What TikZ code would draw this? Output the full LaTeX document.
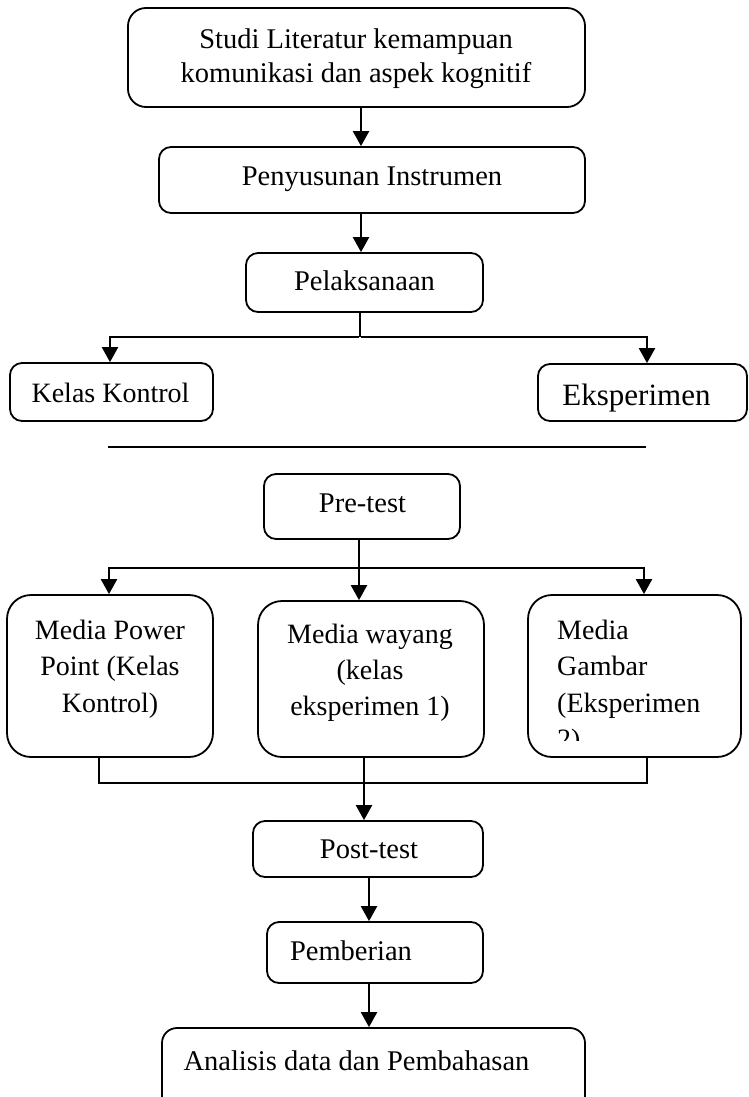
\documentclass[tikz,border=0pt]{standalone}
\usepackage{fontspec}
\setmainfont{Liberation Serif}
\usetikzlibrary{arrows.meta}
\begin{document}
\begin{tikzpicture}[x=1pt,y=-1pt,
  box/.style={draw, line width=1.8pt, rounded corners=12pt, inner sep=0pt},
  bigbox/.style={box, rounded corners=24pt},
  txt/.style={inner sep=0pt, anchor=base, font=\fontsize{28.5}{34}\selectfont},
  line/.style={line width=2.2pt},
  arr/.style={line width=2.4pt, -{Triangle[width=16pt,length=15pt]}}]
\useasboundingbox (0,0) rectangle (748,1097);

% boxes
\node[box, rounded corners=18pt, minimum width=457pt, minimum height=99pt] (b1) at (356.5,57.5) {};
\node[box, minimum width=426pt, minimum height=66pt] (b2) at (372,180) {};
\node[box, minimum width=237pt, minimum height=59pt] (b3) at (364.5,282.5) {};
\node[box, minimum width=203pt, minimum height=58pt] (kk) at (111.5,392) {};
\node[box, minimum width=209pt, minimum height=57pt] (ek) at (642.5,392.5) {};
\node[box, minimum width=196pt, minimum height=65pt] (pre) at (362,506.5) {};
\node[bigbox, minimum width=206pt, minimum height=162pt] (m1) at (110,676) {};
\node[bigbox, minimum width=226pt, minimum height=156pt] (m2) at (371,679) {};
\node[bigbox, minimum width=213pt, minimum height=162pt] (m3) at (634.5,676) {};
\node[box, minimum width=230pt, minimum height=56pt] (post) at (368,849) {};
\node[box, minimum width=216pt, minimum height=61pt] (pem) at (375,952.5) {};
\node[box, rounded corners=15pt, minimum width=423pt, minimum height=84pt] (an) at (373.5,1070) {};

% texts (multi-line nodes: base = baseline of last line)
\node[txt, align=center] (t1) at (356,83) {Studi Literatur kemampuan\\komunikasi dan aspek kognitif};
\node[txt] (t2) at (372,185) {Penyusunan Instrumen};
\node[txt] (t3) at (364.5,290) {Pelaksanaan};
\node[txt, font=\fontsize{28}{34}\selectfont] (tkk) at (110.5,402) {Kelas Kontrol};
\node[txt, font=\fontsize{31}{36}\selectfont] (tek) at (636.5,405) {Eksperimen};
\node[txt] (tpre) at (362.5,512) {Pre-test};
\node[txt, align=center, font=\fontsize{28}{36.5}\selectfont] (tm1) at (110,712) {Media Power\\Point (Kelas\\Kontrol)};
\node[txt, align=center, font=\fontsize{28}{36}\selectfont] (tm2) at (370,715) {Media wayang\\(kelas\\eksperimen 1)};
\begin{scope}
  \clip (500,590) rectangle (748,740);
  \node[txt, anchor=base west, align=left, font=\fontsize{28}{36.5}\selectfont] (tm3) at (557,748.5) {Media\\Gambar\\(Eksperimen\\2)};
\end{scope}
\node[txt] (tpost) at (369,858) {Post-test};
\node[txt] (tpem) at (351,960) {Pemberian};
\node[txt] (tan) at (356.5,1070) {Analisis data dan Pembahasan};

% helper coordinates
\coordinate (xa) at (361,0);
\coordinate (j1) at (360,337);
\coordinate (xkk) at (110,0);
\coordinate (xek) at (647,0);
\coordinate (sepL) at (108,447);
\coordinate (sepR) at (646,447);
\coordinate (j2) at (359,568);
\coordinate (xm1) at (109,0);
\coordinate (xm3) at (644,0);
\coordinate (j3) at (364,783);
\coordinate (xl) at (99,0);
\coordinate (xr) at (647,0);
\coordinate (xp) at (369,0);

% connectors
\draw[arr] (b1.south -| xa) -- (b2.north -| xa);
\draw[arr] (b2.south -| xa) -- (b3.north -| xa);
\draw[line] (b3.south -| j1) -- (j1);
\draw[arr] ([xshift=-1.1pt]j1) -| (kk.north -| xkk);
\draw[arr] ([xshift=1.1pt]j1) -| (ek.north -| xek);
\draw[line, line width=1.8pt] (sepL) -- (sepR);
\draw[arr] (pre.south -| j2) -- (m2.north -| j2);
\draw[arr] (j2) -| (m1.north -| xm1);
\draw[arr] (j2) -| (m3.north -| xm3);
\draw[line, line width=1.8pt] (m1.south -| xl) |- (j3);
\draw[line, line width=1.8pt] (m3.south -| xr) |- (j3);
\draw[arr] (m2.south -| j3) -- (post.north -| j3);
\draw[arr] (post.south -| xp) -- (pem.north -| xp);
\draw[arr] (pem.south -| xp) -- (an.north -| xp);
\end{tikzpicture}
\end{document}
